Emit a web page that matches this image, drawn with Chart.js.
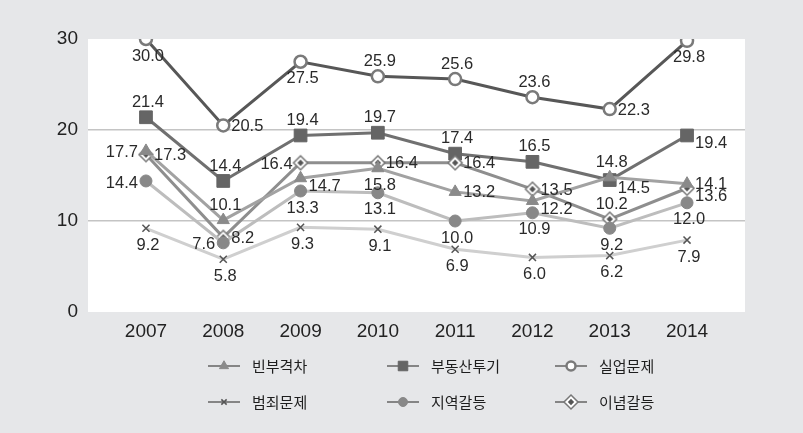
<!DOCTYPE html>
<html>
<head>
<meta charset="utf-8">
<script src="https://cdn.jsdelivr.net/npm/chart.js@4"></script>
<style>
  body { margin: 0; background: #e6e7e9; }
  #wrap { width: 803px; height: 433px; }
</style>
</head>
<body>
<div id="wrap"><canvas id="myChart" width="803" height="433"></canvas></div>
<script>
const years = ["2007", "2008", "2009", "2010", "2011", "2012", "2013", "2014"];
const seriesNames = ["빈부격차", "부동산투기", "실업문제", "범죄문제", "지역갈등", "이념갈등"];
const gapValues = [17.7, 10.1, 14.7, 15.8, 13.2, 12.2, 14.8, 14.1];
const realEstateValues = [21.4, 14.4, 19.4, 19.7, 17.4, 16.5, 14.5, 19.4];
const jobValues = [30.0, 20.5, 27.5, 25.9, 25.6, 23.6, 22.3, 29.8];
const crimeValues = [9.2, 5.8, 9.3, 9.1, 6.9, 6.0, 6.2, 7.9];
const regionValues = [14.4, 7.6, 13.3, 13.1, 10.0, 10.9, 9.2, 12.0];
const ideologyValues = [17.3, 8.2, 16.4, 16.4, 16.4, 13.5, 10.2, 13.6];
const yTicks = [0, 10, 20, 30];

// where each value label sits next to its point: a = above, b = below, r = right, l = left, rb = right, a bit low
const labelSpots = [
  ["l", "a", "rb", "b", "r", "rb", "a", "r"],
  ["a", "a", "a", "a", "a", "a", "rb", "rb"],
  ["b", "r", "b", "a", "a", "a", "r", "b"],
  ["b", "b", "b", "b", "b", "b", "b", "b"],
  ["l", "l", "b", "b", "b", "b", "b", "b"],
  ["r", "r", "l", "r", "r", "r", "a", "rb"]
];

function diamondIcon(r) {
  const c = document.createElement("canvas");
  const s = r * 2 + 4;
  c.width = c.height = s;
  const g = c.getContext("2d");
  const m = s / 2;
  const dia = (k) => {
    g.beginPath();
    g.moveTo(m, m - k); g.lineTo(m + k, m); g.lineTo(m, m + k); g.lineTo(m - k, m);
    g.closePath();
  };
  dia(r); g.fillStyle = "#fff"; g.fill(); g.lineWidth = 1.5; g.strokeStyle = "#777"; g.stroke();
  dia(r * 0.45); g.fillStyle = "#555"; g.fill();
  return c;
}

const styles = [
  { line: "#a2a2a2", point: "triangle", radius: 7, bg: "#8a8a8a", border: "#8a8a8a", bw: 1 },
  { line: "#707070", point: "rect", radius: 9, bg: "#656565", border: "#656565", bw: 1 },
  { line: "#575757", point: "circle", radius: 6, bg: "#ffffff", border: "#7a7a7a", bw: 2.5 },
  { line: "#cfcfcf", point: "crossRot", radius: 5, bg: "#555", border: "#555", bw: 1.5 },
  { line: "#bdbdbd", point: "circle", radius: 6, bg: "#888888", border: "#888888", bw: 1 },
  { line: "#8e8e8e", point: diamondIcon(7), radius: 7, bg: "#fff", border: "#777", bw: 1.5 }
];

const allValues = [gapValues, realEstateValues, jobValues, crimeValues, regionValues, ideologyValues];
const drawOrder = [3, 4, 0, 5, 1, 2];

const datasets = drawOrder.map(k => ({
  label: seriesNames[k],
  data: allValues[k].map((v, i) => ({ x: i, y: v })),
  borderColor: styles[k].line,
  borderWidth: 3,
  pointStyle: styles[k].point,
  pointRadius: styles[k].radius,
  pointBackgroundColor: styles[k].bg,
  pointBorderColor: styles[k].border,
  pointBorderWidth: styles[k].bw,
  tension: 0,
  seriesIndex: k
}));

const plotBackground = {
  id: "plotBackground",
  beforeDraw(chart) {
    const { ctx, chartArea: a } = chart;
    ctx.save();
    ctx.fillStyle = "#ffffff";
    ctx.fillRect(a.left, a.top, a.right - a.left, a.bottom - a.top);
    ctx.restore();
  }
};

const valueLabels = {
  id: "valueLabels",
  afterDatasetsDraw(chart) {
    const ctx = chart.ctx;
    ctx.save();
    ctx.font = "16.5px 'Liberation Sans', Arial, sans-serif";
    ctx.fillStyle = "#2a2a2a";
    ctx.textBaseline = "middle";
    chart.data.datasets.forEach((ds, di) => {
      const k = ds.seriesIndex;
      chart.getDatasetMeta(di).data.forEach((pt, i) => {
        const txt = allValues[k][i].toFixed(1);
        const spot = labelSpots[k][i];
        let x = pt.x, y = pt.y;
        if (spot === "a") { ctx.textAlign = "center"; x += 2; y -= 15; }
        else if (spot === "b") { ctx.textAlign = "center"; x += 2; y += 17; }
        else if (spot === "r") { ctx.textAlign = "left"; x += 8; y += 1; }
        else if (spot === "rb") { ctx.textAlign = "left"; x += 8; y += 8; }
        else { ctx.textAlign = "right"; x -= 8; y += 2; }
        ctx.fillText(txt, x, y);
      });
    });
    ctx.restore();
  }
};

const customLegend = {
  id: "customLegend",
  afterDraw(chart) {
    const ctx = chart.ctx;
    const cols = [208, 387, 555];
    const rows = [366, 402];
    ctx.save();
    ctx.font = "15px 'Noto Sans CJK KR', sans-serif";
    ctx.textAlign = "left";
    ctx.textBaseline = "middle";
    seriesNames.forEach((name, k) => {
      const x = cols[k % 3], y = rows[Math.floor(k / 3)];
      const s = styles[k];
      ctx.strokeStyle = "#858585";
      ctx.lineWidth = 2;
      ctx.beginPath(); ctx.moveTo(x, y); ctx.lineTo(x + 32, y); ctx.stroke();
      ctx.fillStyle = s.bg; ctx.strokeStyle = s.border; ctx.lineWidth = s.bw;
      Chart.helpers.drawPoint(ctx, { pointStyle: s.point, radius: s.radius * 0.75, rotation: 0, borderWidth: s.bw }, x + 16, y);
      ctx.fillStyle = "#1e1e1e";
      ctx.fillText(name, x + 44, y);
    });
    ctx.restore();
  }
};

new Chart("myChart", {
  type: "line",
  data: { datasets: datasets },
  options: {
    responsive: false,
    animation: false,
    layout: { padding: { left: 0, right: 58, top: 39, bottom: 0 } },
    scales: {
      x: {
        type: "linear",
        min: -0.75,
        max: 7.75,
        afterBuildTicks: scale => { scale.ticks = years.map((_, i) => ({ value: i })); },
        afterFit: scale => { scale.height = 121; },
        ticks: {
          callback: v => years[v],
          font: { family: "'Liberation Sans', Arial, sans-serif", size: 19 },
          color: "#222",
          padding: 8,
          maxRotation: 0,
          autoSkip: false
        },
        grid: { display: false, drawTicks: false },
        border: { display: false }
      },
      y: {
        min: 0,
        max: 30,
        afterBuildTicks: scale => { scale.ticks = yTicks.map(v => ({ value: v })); },
        afterFit: scale => { scale.width = 88; },
        ticks: {
          font: { family: "'Liberation Sans', Arial, sans-serif", size: 19 },
          color: "#222",
          padding: 10
        },
        grid: {
          color: c => (c.tick.value === 10 || c.tick.value === 20) ? "#c4c4c4" : "rgba(0,0,0,0)",
          lineWidth: 1.5,
          drawTicks: false
        },
        border: { display: false }
      }
    },
    plugins: {
      legend: { display: false },
      tooltip: { enabled: false }
    }
  },
  plugins: [plotBackground, valueLabels, customLegend]
});
</script>
</body>
</html>
